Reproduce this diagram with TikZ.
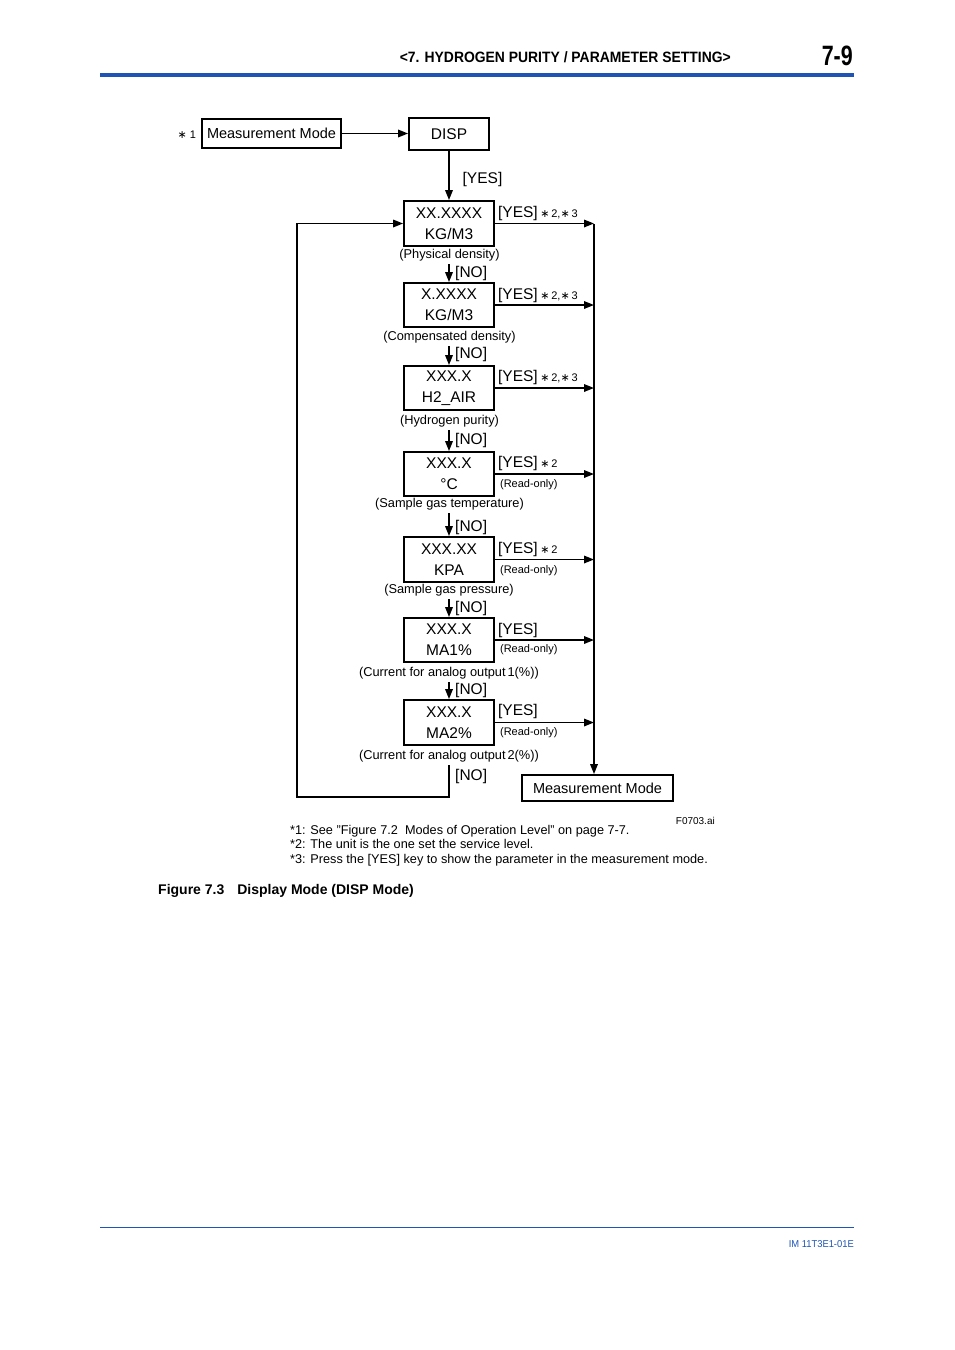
\documentclass[tikz,border=0pt]{standalone}
\usepackage{fontspec}
\setmainfont{Liberation Sans}
\newfontfamily\djv{DejaVu Sans}
\usetikzlibrary{arrows.meta}
\definecolor{hdrblue}{RGB}{30,85,180}
\newcommand{\st}{{\djv ∗}}
\begin{document}
\begin{tikzpicture}[x=1pt,y=-1pt,
  dbox/.style={draw,line width=1.8pt,minimum width=90pt,minimum height=44pt,inner sep=0pt,align=center,font=\fontsize{15.5}{21}\selectfont},
  mbox/.style={draw,line width=1.8pt,inner sep=0pt,font=\fontsize{14.5}{16}\selectfont},
  lbl/.style={inner sep=0pt,font=\fontsize{15.5}{18}\selectfont},
  desc/.style={inner sep=0pt,font=\fontsize{12.8}{15}\selectfont},
  ro/.style={inner sep=0pt,font=\fontsize{11}{13}\selectfont},
  note/.style={inner sep=0pt,font=\fontsize{12.7}{14.5}\selectfont,align=left,anchor=north west},
  arr/.style={line width=1.7pt,-{Triangle[length=10pt,width=7.5pt]}},
  ln/.style={line width=1.7pt}]
\useasboundingbox (0,0) rectangle (954,1350);
% header
\node[inner sep=0pt,anchor=base east] (hdr) at (731,62) {\resizebox{331pt}{\height}{\fontsize{15}{15}\selectfont\bfseries <7. HYDROGEN PURITY / PARAMETER SETTING>}};
\node[inner sep=0pt,anchor=base east] (pg) at (853,65) {\resizebox{31pt}{\height}{\fontsize{28}{28}\selectfont\bfseries 7-9}};
\fill[hdrblue] (100,73) rectangle (854,77);
\fill[hdrblue] (100,1226.5) rectangle (854,1227.7);
\node[inner sep=0pt,anchor=base east,text=hdrblue] (ftr) at (854,1247.5) {\resizebox{65pt}{\height}{\fontsize{10}{10}\selectfont IM 11T3E1-01E}};
% top
\node[mbox,minimum width=139pt,minimum height=29pt] (mm1) at (271.5,133.5) {Measurement Mode};
\node[ro,anchor=east] (s1) at ([xshift=-5pt,yshift=-1pt]mm1.west) {\st\ 1};
\node[draw,line width=1.8pt,minimum width=80pt,minimum height=32pt,inner sep=0pt,font=\fontsize{15.5}{18}\selectfont] (disp) at (449,134) {DISP};
\draw[arr] (mm1.east) -- (mm1.east -| disp.west);
% boxes
\node[dbox,minimum height=45pt] (b1) at (449,223.5) {XX.XXXX\\KG/M3};
\node[dbox] (b2) at (449,305) {X.XXXX\\KG/M3};
\node[dbox] (b3) at (449,388) {XXX.X\\H2\_AIR};
\node[dbox] (b4) at (449,474) {XXX.X\\°C};
\node[dbox,minimum height=45pt] (b5) at (449,559.5) {XXX.XX\\KPA};
\node[dbox] (b6) at (449,640) {XXX.X\\MA1\%};
\node[dbox,minimum height=45pt] (b7) at (449,722.5) {XXX.X\\MA2\%};
\draw[arr] (disp.south) -- (b1.north);
\node[lbl] (yd) at (482.5,179) {[YES]};
% descriptions
\node[desc] (d1) at (449.5,255) {(Physical density)};
\node[desc] (d2) at (449.5,337) {(Compensated density)};
\node[desc] (d3) at (449.5,421) {(Hydrogen purity)};
\node[desc] (d4) at (449.5,504) {(Sample gas temperature)};
\node[desc] (d5) at (449,590) {(Sample gas pressure)};
\node[desc] (d6) at (449,673) {(Current for analog output\kern2pt 1(\%))};
\node[desc] (d7) at (449,756) {(Current for analog output\kern2pt 2(\%))};
% NO arrows
\draw[arr] ([yshift=-3pt]d1.south -| b2.north) -- (b2.north);
\draw[arr] ([yshift=-3pt]d2.south -| b3.north) -- (b3.north);
\draw[arr] ([yshift=-3pt]d3.south -| b4.north) -- (b4.north);
\draw[arr] ([yshift=-3pt]d4.south -| b5.north) -- (b5.north);
\draw[arr] ([yshift=-3pt]d5.south -| b6.north) -- (b6.north);
\draw[arr] ([yshift=-3pt]d6.south -| b7.north) -- (b7.north);
\node[lbl,anchor=west] (n1) at (455,273) {[NO]};
\node[lbl,anchor=west] (n2) at (455,354) {[NO]};
\node[lbl,anchor=west] (n3) at (455,440) {[NO]};
\node[lbl,anchor=west] (n4) at (455,527) {[NO]};
\node[lbl,anchor=west] (n5) at (455,608) {[NO]};
\node[lbl,anchor=west] (n6) at (455,690) {[NO]};
\node[lbl,anchor=west] (n7) at (455,776) {[NO]};
% loop back
\coordinate (lp) at (297,797);
\draw[arr] ([yshift=-3pt]d7.south -| b7.south) |- (lp) |- (b1.west);
% bottom measurement mode
\node[mbox,minimum width=151pt,minimum height=26pt] (mm2) at (597.5,788) {Measurement Mode\hspace{7pt}};
\coordinate (rail) at (594,224);
\draw[arr] (rail) -- (rail |- mm2.north);
% YES arrows
\foreach \b in {b1,b2,b3,b4,b5,b6,b7}{
  \draw[arr] (\b.east) -- (\b.east -| rail);
}
\node[lbl,anchor=west] (y1) at ([xshift=3pt,yshift=10.5pt]b1.east) {[YES]\,{\fontsize{11}{13}\selectfont\st\,2,\st\,3}};
\node[lbl,anchor=west] (y2) at ([xshift=3pt,yshift=10pt]b2.east) {[YES]\,{\fontsize{11}{13}\selectfont\st\,2,\st\,3}};
\node[lbl,anchor=west] (y3) at ([xshift=3pt,yshift=11pt]b3.east) {[YES]\,{\fontsize{11}{13}\selectfont\st\,2,\st\,3}};
\node[lbl,anchor=west] (y4) at ([xshift=3pt,yshift=11pt]b4.east) {[YES]\,{\fontsize{11}{13}\selectfont\st\,2}};
\node[lbl,anchor=west] (y5) at ([xshift=3pt,yshift=10.5pt]b5.east) {[YES]\,{\fontsize{11}{13}\selectfont\st\,2}};
\node[lbl,anchor=west] (y6) at ([xshift=3pt,yshift=10pt]b6.east) {[YES]};
\node[lbl,anchor=west] (y7) at ([xshift=3pt,yshift=11.5pt]b7.east) {[YES]};
\node[ro,anchor=west] (r4) at ([xshift=5pt,yshift=-11pt]b4.east) {(Read-only)};
\node[ro,anchor=west] (r5) at ([xshift=5pt,yshift=-11.5pt]b5.east) {(Read-only)};
\node[ro,anchor=west] (r6) at ([xshift=5pt,yshift=-10pt]b6.east) {(Read-only)};
\node[ro,anchor=west] (r7) at ([xshift=5pt,yshift=-10.5pt]b7.east) {(Read-only)};
% notes
\node[inner sep=0pt,anchor=east,font=\fontsize{10}{12}\selectfont] (fid) at (715,821) {F0703.ai};
\node[note] (notes) at (290,825) {*1: See "Figure 7.2\ \ Modes of Operation Level" on page 7-7.\\*2: The unit is the one set the service level.\\*3: Press the [YES] key to show the parameter in the measurement mode.};
\node[inner sep=0pt,anchor=west,font=\fontsize{14}{16}\selectfont\bfseries] (cap) at (158,891) {Figure 7.3\hspace{13pt}Display Mode (DISP Mode)};
\end{tikzpicture}
\end{document}
